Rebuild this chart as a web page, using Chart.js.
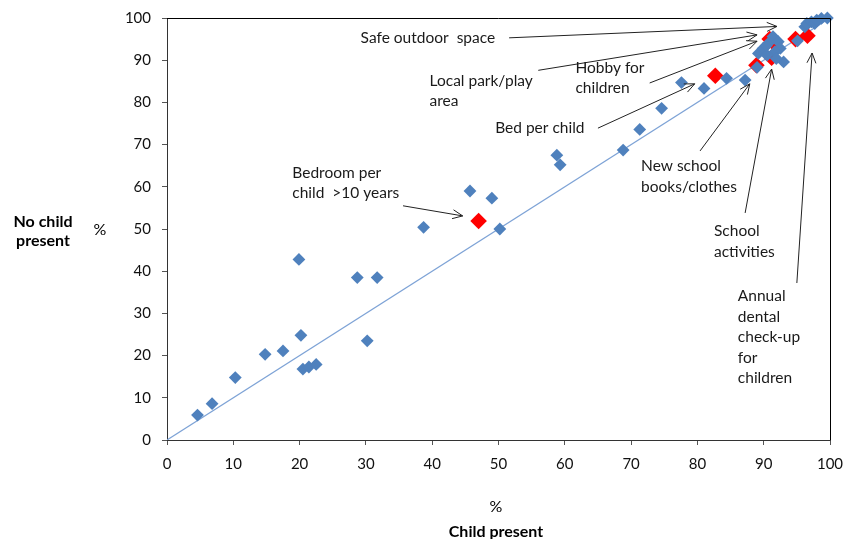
<!DOCTYPE html>
<html><head><meta charset="utf-8">
<script src="https://cdn.jsdelivr.net/npm/chart.js@4"></script>
<style>html,body{margin:0;padding:0;background:#fff;overflow:hidden}#c{display:block}</style>
</head><body>
<canvas id="c" width="843" height="539"></canvas>
<script>
// ---- data ----
const xTickValues = [0,10,20,30,40,50,60,70,80,90,100];
const yTickValues = [0,10,20,30,40,50,60,70,80,90,100];
const blueX = [4.6,6.8,10.3,14.8,17.5,19.9,20.2,20.5,21.4,22.5,28.7,31.7,30.2,38.7,45.7,49.0,50.2,58.8,59.3,68.8,71.3,74.6,77.6,81.0,84.4,87.2,89.0,89.2,89.9,90.7,91.4,92.2,92.5,91.7,90.5,93.0,95.1,96.2,96.5,97.2,97.7,98.0,98.7,99.6,90.4,91.9];
const blueY = [5.9,8.6,14.8,20.3,21.1,42.8,24.8,16.8,17.3,17.9,38.5,38.5,23.5,50.4,59.0,57.3,50.0,67.5,65.2,68.7,73.6,78.6,84.7,83.3,85.7,85.3,88.3,91.6,92.8,94.0,95.6,94.4,92.8,92.0,91.2,89.6,94.6,97.9,98.7,99.1,98.7,99.5,99.9,100.0,93.4,90.4];
const redLabels = ["Bedroom per child >10 years","Bed per child","New school books/clothes","Safe outdoor space","Local park/play area","School activities","Hobby for children","Annual dental check-up for children"];
const redX = [47.0,82.7,88.9,90.9,91.6,91.2,94.8,96.6];
const redY = [51.9,86.3,88.8,95.0,93.9,90.6,95.0,95.8];
const diagX = [0,100];
const diagY = [0,100];

// ---- annotations (text in data coordinates, arrows from -> to) ----
const notes = [
  {lines:["Safe outdoor  space"], at:[29.2,95.3], from:[51.6,95.3], to:[92.0,98.0]},
  {lines:["Local park/play","area"], at:[39.6,85.1], from:[56.0,87.6], to:[89.0,96.0]},
  {lines:["Hobby for","children"], at:[61.6,88.2], from:[72.8,84.6], to:[89.0,94.5]},
  {lines:["Bed per child"], at:[49.5,73.9], from:[65.0,73.9], to:[79.6,84.4]},
  {lines:["Bedroom per","child  >10 years"], at:[18.9,63.3], from:[35.6,55.5], to:[44.6,53.1]},
  {lines:["New school","books/clothes"], at:[71.5,64.9], from:[80.4,68.5], to:[87.9,84.4]},
  {lines:["School","activities"], at:[82.5,49.5], from:[87.2,53.8], to:[91.2,87.9]},
  {lines:["Annual","dental","check-up","for","children"], at:[86.1,34.1], from:[95.0,37.2], to:[97.3,91.7]}
];

const FONT = 'Lato, "Open Sans", sans-serif';
const toPts = (xs, ys) => xs.map((x,i)=>({x, y: ys[i]}));

const decor = {
  id:'decor',
  afterDraw(chart){
    const {ctx, chartArea:a, scales:{x, y}} = chart;
    ctx.save();
    ctx.strokeStyle = '#000'; ctx.lineWidth = 1;
    ctx.beginPath();
    ctx.moveTo(a.left, a.top+0.5); ctx.lineTo(a.right+0.5, a.top+0.5); ctx.lineTo(a.right+0.5, a.bottom);
    ctx.stroke();
    ctx.fillStyle = '#1a1a1a';
    ctx.font = '15.5px ' + FONT;
    ctx.textBaseline = 'middle'; ctx.textAlign = 'left';
    notes.forEach(n => {
      const tx = x.getPixelForValue(n.at[0]), ty = y.getPixelForValue(n.at[1]);
      n.lines.forEach((l,i)=> ctx.fillText(l, tx, ty + i*20.6));
      const x1 = x.getPixelForValue(n.from[0]), y1 = y.getPixelForValue(n.from[1]);
      const x2 = x.getPixelForValue(n.to[0]), y2 = y.getPixelForValue(n.to[1]);
      ctx.strokeStyle = '#222'; ctx.lineWidth = 1;
      ctx.beginPath(); ctx.moveTo(x1,y1); ctx.lineTo(x2,y2); ctx.stroke();
      const ang = Math.atan2(y2-y1, x2-x1), L = 11, w = 0.42;
      ctx.beginPath();
      ctx.moveTo(x2 - L*Math.cos(ang-w), y2 - L*Math.sin(ang-w));
      ctx.lineTo(x2, y2);
      ctx.lineTo(x2 - L*Math.cos(ang+w), y2 - L*Math.sin(ang+w));
      ctx.stroke();
    });
    ctx.fillStyle = '#000';
    ctx.textAlign = 'center';
    ctx.font = 'bold 16px ' + FONT;
    ctx.fillText('No child', 43, 222);
    ctx.fillText('present', 43, 241);
    ctx.fillText('Child present', 496, 532);
    ctx.font = '16px ' + FONT;
    ctx.fillText('%', 100, 230);
    ctx.fillText('%', 496, 507);
    ctx.restore();
  }
};

new Chart(document.getElementById('c'), {
  type: 'scatter',
  data: { datasets: [
    { label:'Items', data: toPts(blueX, blueY), pointStyle:'rectRot', pointRadius:6.4, pointHoverRadius:6.4,
      backgroundColor:'#4f81bd', borderColor:'#4f81bd', borderWidth:0, order:0, clip:false },
    { label:'Highlighted', data: toPts(redX, redY), pointStyle:'rectRot', pointRadius:8.3, pointHoverRadius:8.3,
      backgroundColor:'#ff0000', borderColor:'#ff0000', borderWidth:0, order:1, clip:false },
    { type:'line', label:'Equal', data: toPts(diagX, diagY), borderColor:'#7ea3d6', borderWidth:1.2,
      pointRadius:0, fill:false, order:2 }
  ]},
  options: {
    responsive:false, animation:false, devicePixelRatio:1,
    layout:{ padding:{ top:18, right:13, left:0, bottom:0 } },
    plugins:{ legend:{display:false}, tooltip:{enabled:false} },
    scales:{
      x:{ type:'linear', min:0, max:100,
        afterBuildTicks(s){ s.ticks = xTickValues.map(v=>({value:v})); },
        afterFit(s){ s.height = 99; s.paddingRight = 0; s.paddingLeft = 0; },
        grid:{ drawOnChartArea:false, drawTicks:true, tickLength:5, color:'#555' },
        border:{ color:'#333', width:1 },
        ticks:{ color:'#111', font:{family:FONT, size:15}, padding:10, maxRotation:0 } },
      y:{ type:'linear', min:0, max:100,
        afterBuildTicks(s){ s.ticks = yTickValues.map(v=>({value:v})); },
        afterFit(s){ s.width = 167; s.paddingTop = 0; s.paddingBottom = 0; },
        grid:{ drawOnChartArea:false, drawTicks:true, tickLength:5, color:'#555' },
        border:{ color:'#333', width:1 },
        ticks:{ color:'#111', font:{family:FONT, size:15}, padding:11 } }
    }
  },
  plugins:[decor]
});
</script>
</body></html>
